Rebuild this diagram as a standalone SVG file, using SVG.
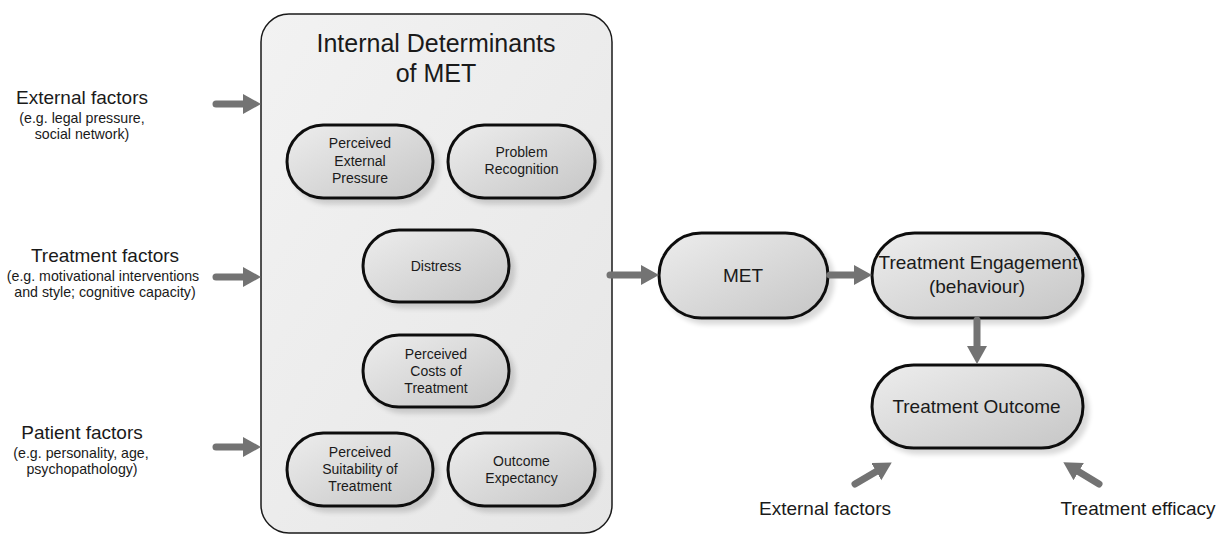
<svg xmlns="http://www.w3.org/2000/svg" width="1217" height="535" viewBox="0 0 1217 535">
<style>
text{font-family:"Liberation Sans",Arial,sans-serif;fill:#1a1a1a;text-anchor:middle}
.lbl{font-size:19px}
.sub{font-size:14.2px}
.nt{font-size:14px}
.big{font-size:19px}
.ttl{font-size:25px}
.pill{fill:url(#pg);stroke:#111;stroke-width:3;filter:url(#sh)}
.arr{stroke:#737373;stroke-width:7;stroke-linecap:round;fill:none;marker-end:url(#ah)}
</style>
<defs>
<linearGradient id="pg" x1="0" y1="0" x2="1" y2="1">
<stop offset="0" stop-color="#ededed"/>
<stop offset="1" stop-color="#c6c6c6"/>
</linearGradient>
<linearGradient id="cg" x1="0" y1="0" x2="1" y2="1">
<stop offset="0" stop-color="#f2f2f2"/>
<stop offset="1" stop-color="#e6e6e6"/>
</linearGradient>
<filter id="sh" x="-20%" y="-20%" width="140%" height="150%">
<feGaussianBlur in="SourceAlpha" stdDeviation="2.5"/>
<feOffset dx="5" dy="5" result="b"/>
<feComponentTransfer><feFuncA type="linear" slope="0.15"/></feComponentTransfer>
<feMerge><feMergeNode/><feMergeNode in="SourceGraphic"/></feMerge>
</filter>
<marker id="ah" markerUnits="userSpaceOnUse" markerWidth="20" markerHeight="22" refX="9" refY="10" orient="auto">
<path d="M0,0 L18,10 L0,20 Z" fill="#737373"/>
</marker>
</defs>

<g id="container">
<rect x="261" y="14" width="351" height="519" rx="28" ry="28" fill="url(#cg)" stroke="#1a1a1a" stroke-width="1.5"/>
<text class="ttl" x="436" y="52">Internal Determinants</text>
<text class="ttl" x="436" y="82">of MET</text>
</g>

<g id="external-factors-left">
<text class="lbl" x="82" y="104">External factors</text>
<text class="sub" x="82" y="123">(e.g. legal pressure,</text>
<text class="sub" x="82" y="139">social network)</text>
</g>
<g id="treatment-factors">
<text class="lbl" x="105" y="262">Treatment factors</text>
<text class="sub" x="103" y="281">(e.g. motivational interventions</text>
<text class="sub" x="105" y="297">and style; cognitive capacity)</text>
</g>
<g id="patient-factors">
<text class="lbl" x="82" y="439">Patient factors</text>
<text class="sub" x="81" y="458">(e.g. personality, age,</text>
<text class="sub" x="82" y="474">psychopathology)</text>
</g>

<g id="perceived-external-pressure">
<rect class="pill" x="287" y="125" width="146" height="73" rx="36.5"/>
<text class="nt" x="360" y="148">Perceived</text>
<text class="nt" x="360" y="166">External</text>
<text class="nt" x="360" y="183">Pressure</text>
</g>
<g id="problem-recognition">
<rect class="pill" x="448" y="125" width="147" height="73" rx="36.5"/>
<text class="nt" x="521.5" y="157">Problem</text>
<text class="nt" x="521.5" y="174">Recognition</text>
</g>
<g id="distress">
<rect class="pill" x="363" y="230" width="146" height="72" rx="36"/>
<text class="nt" x="436" y="271">Distress</text>
</g>
<g id="perceived-costs">
<rect class="pill" x="363" y="335" width="146" height="72" rx="36"/>
<text class="nt" x="436" y="359">Perceived</text>
<text class="nt" x="436" y="376">Costs of</text>
<text class="nt" x="436" y="393">Treatment</text>
</g>
<g id="perceived-suitability">
<rect class="pill" x="287" y="433" width="146" height="73" rx="36.5"/>
<text class="nt" x="360" y="457">Perceived</text>
<text class="nt" x="360" y="474">Suitability of</text>
<text class="nt" x="360" y="491">Treatment</text>
</g>
<g id="outcome-expectancy">
<rect class="pill" x="448" y="433" width="147" height="73" rx="36.5"/>
<text class="nt" x="521.5" y="466">Outcome</text>
<text class="nt" x="521.5" y="483">Expectancy</text>
</g>

<g id="met">
<rect class="pill" x="659" y="233" width="169" height="85" rx="42.5"/>
<text class="big" x="743" y="282">MET</text>
</g>
<g id="treatment-engagement">
<rect class="pill" x="872" y="233" width="211" height="85" rx="42.5"/>
<text class="big" x="978" y="269">Treatment Engagement</text>
<text class="big" x="977" y="293">(behaviour)</text>
</g>
<g id="treatment-outcome">
<rect class="pill" x="872" y="365" width="211" height="83" rx="41.5"/>
<text class="big" x="976.5" y="413">Treatment Outcome</text>
</g>

<g id="external-factors-bottom">
<text class="big" x="825" y="515">External factors</text>
</g>
<g id="treatment-efficacy">
<text class="big" x="1138" y="515">Treatment efficacy</text>
</g>

<g id="connectors">
<line class="arr" x1="216" y1="104" x2="252" y2="104"/>
<line class="arr" x1="216" y1="277" x2="252" y2="277"/>
<line class="arr" x1="216" y1="447" x2="252" y2="447"/>
<line class="arr" x1="610" y1="275" x2="650" y2="275"/>
<line class="arr" x1="830" y1="275" x2="863" y2="275"/>
<line class="arr" x1="977" y1="320" x2="977" y2="355"/>
<line class="arr" x1="855" y1="484" x2="884" y2="467"/>
<line class="arr" x1="1099" y1="484" x2="1071" y2="467"/>
</g>
</svg>
